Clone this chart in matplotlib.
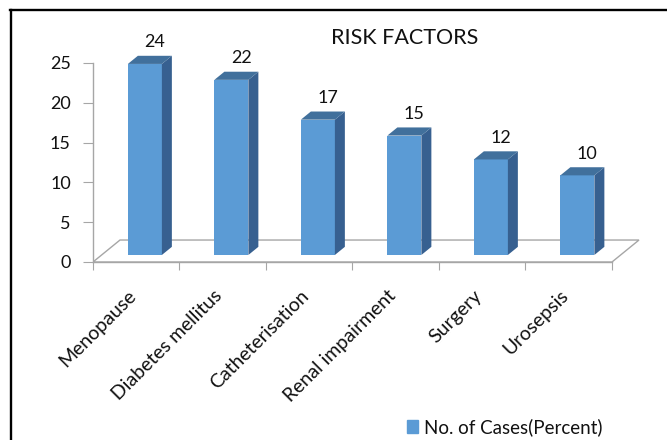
import matplotlib.pyplot as plt
from matplotlib.patches import Polygon
from matplotlib.lines import Line2D
from matplotlib.transforms import ScaledTranslation

# Data
categories = ['Menopause', 'Diabetes mellitus', 'Catheterisation',
              'Renal impairment', 'Surgery', 'Urosepsis']
cases = [24, 22, 17, 15, 12, 10]
y_ticks = [0, 5, 10, 15, 20, 25]

plt.rcParams['font.family'] = ['Lato', 'DejaVu Sans']

front_col = '#5B9BD5'
top_col = '#41709C'
side_col = '#376090'
grid_col = '#A6A6A6'

# fake 3d: depth vector of the floor in data units
DX, DY = 0.312, 2.76
d0, dd = 0.32, 0.37   # bar front depth and bar depth (fractions of floor)
bar_w = 0.393

fig = plt.figure(figsize=(6.67, 4.4), dpi=100)
ax = fig.add_axes([0.13943, 0.40455, 0.84295, 0.54273])
ax.set_xlim(-0.5, 6.0)
ax.set_ylim(0, 30)

n = len(categories)

# floor outline
x0, x1 = -0.5, n - 0.5
floor = Polygon([(x0, 0), (x0 + DX, DY), (x1 + DX, DY), (x1, 0)],
                closed=True, facecolor='white', edgecolor=grid_col, lw=1.0, zorder=1)
ax.add_patch(floor)

# bars
xs = [i + d0 * DX for i in range(n)]
ax.bar(xs, cases, width=bar_w, bottom=d0 * DY, color=front_col, zorder=3)
for x, v in zip(xs, cases):
    xl, xr = x - bar_w / 2, x + bar_w / 2
    yb, yt = d0 * DY, d0 * DY + v
    ox, oy = dd * DX, dd * DY
    side = Polygon([(xr, yb), (xr + ox, yb + oy), (xr + ox, yt + oy), (xr, yt)],
                   closed=True, facecolor=side_col, edgecolor='none', zorder=3)
    top = Polygon([(xl, yt), (xl + ox, yt + oy), (xr + ox, yt + oy), (xr, yt)],
                  closed=True, facecolor=top_col, edgecolor='none', zorder=3)
    ax.add_patch(side)
    ax.add_patch(top)
    ax.annotate(str(v), (x + ox, yt + oy), xytext=(0, 6), textcoords='offset points',
                ha='center', va='baseline', fontsize=13, color='#111111',
                annotation_clip=False)

# axes
for s in ['top', 'right']:
    ax.spines[s].set_visible(False)
ax.spines['left'].set_bounds(0, 25)
ax.spines['bottom'].set_bounds(x0, x1)
for s in ['left', 'bottom']:
    ax.spines[s].set_color(grid_col)
    ax.spines[s].set_linewidth(1.0)
    ax.spines[s].set_zorder(2)

ax.set_yticks(y_ticks)
ax.tick_params(axis='y', length=7, color=grid_col, labelsize=13, pad=9,
               labelcolor='#111111')
ax.set_xticks([i - 0.5 for i in range(n + 1)])
ax.set_xticklabels([])
ax.tick_params(axis='x', which='major', length=6, color=grid_col)
ax.set_xticks(range(n), minor=True)
ax.set_xticklabels(categories, minor=True, rotation=45, ha='right',
                   rotation_mode='anchor', fontsize=14, color='#111111')
ax.tick_params(axis='x', which='minor', length=0, pad=18)
shift = ScaledTranslation(-0.09, 0, fig.dpi_scale_trans)
for lbl in ax.get_xticklabels(minor=True):
    lbl.set_transform(lbl.get_transform() + shift)

fig.text(405 / 667, 1 - 38 / 440, 'RISK FACTORS', ha='center', va='center',
         fontsize=15.5, color='#111111')

handle = plt.Rectangle((0, 0), 1, 1, color=front_col)
leg = fig.legend([handle], ['No. of Cases(Percent)'], loc='center left',
                 bbox_to_anchor=(407 / 667, 1 - 427 / 440), frameon=False,
                 borderpad=0, borderaxespad=0, handlelength=0.59, handleheight=0.75,
                 handletextpad=0.32, fontsize=13.5)
for t in leg.get_texts():
    t.set_color('#111111')

# outer frame (left and top edges)
fig.add_artist(Line2D([11 / 667, 11 / 667], [0, 1 - 10 / 440], color='black', lw=1.7))
fig.add_artist(Line2D([10 / 667, 1], [1 - 10 / 440, 1 - 10 / 440], color='black', lw=1.7))

fig.savefig('out.png', dpi=100, facecolor='white')
